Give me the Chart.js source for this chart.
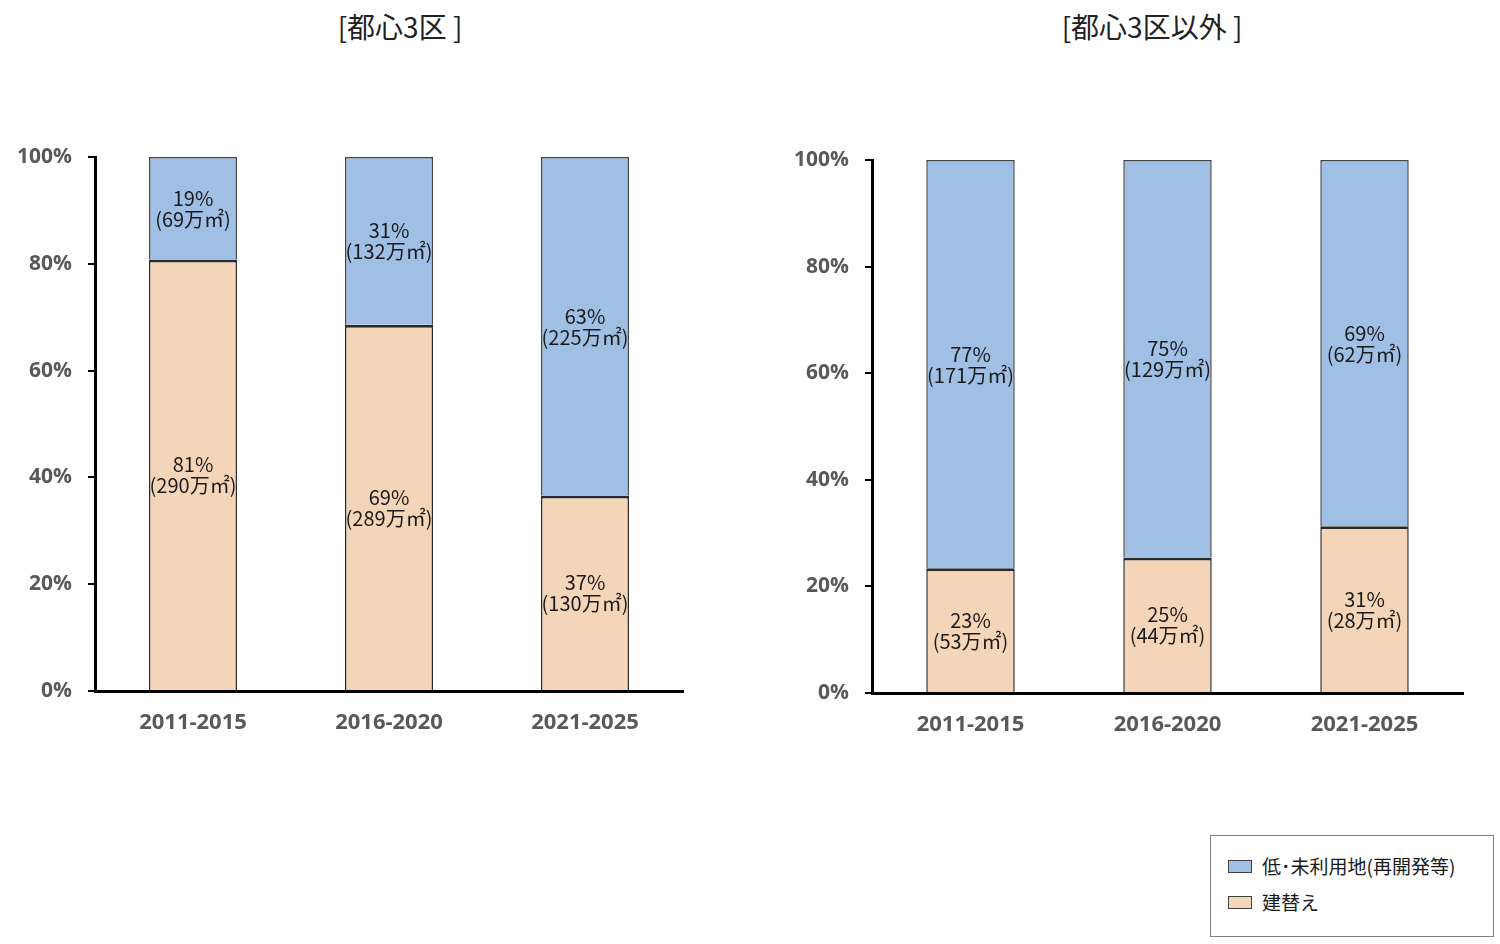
<!DOCTYPE html>
<html>
<head>
<meta charset="utf-8">
<script src="https://cdn.jsdelivr.net/npm/chart.js@4"></script>
<style>
  body { margin: 0; background: #fff; width: 1500px; height: 944px; position: relative; overflow: hidden;
         font-family: "Noto Sans CJK JP", "Noto Sans", sans-serif; }
  .title { position: absolute; top: 6px; font-size: 28px; color: #222; text-align: center; width: 400px; }
  .wrap { position: absolute; top: 0; width: 740px; height: 760px; }
  .legend { position: absolute; left: 1210px; top: 835px; width: 284px; height: 102px;
            border: 1.5px solid #7f7f7f; box-sizing: border-box; }
  .item { position: absolute; left: 17px; font-size: 19px; color: #1a1a1a; line-height: 24px; }
  .sw { display: inline-block; width: 22px; height: 11px; border: 1.5px solid #404040;
        vertical-align: middle; margin-right: 10px; position: relative; top: -2px; }
</style>
</head>
<body>
<div class="title" style="left:200px">[都心3区 ]</div>
<div class="title" style="left:952px">[都心3区以外 ]</div>
<div class="wrap" style="left:0"><canvas id="central"></canvas></div>
<div class="wrap" style="left:760px"><canvas id="outer"></canvas></div>
<div class="legend">
  <div class="item" style="top:18px"><span class="sw" style="background:#9fbfe4"></span>低･未利用地(再開発等)</div>
  <div class="item" style="top:54px"><span class="sw" style="background:#f5d5b7"></span>建替え</div>
</div>
<script>
// data
const categories = ["2011-2015", "2016-2020", "2021-2025"];
const yTicks = [0, 20, 40, 60, 80, 100];

const centralRebuild = [80.8, 68.6, 36.6];
const centralUnused = [19.2, 31.4, 63.4];
const centralRebuildArea = [290, 289, 130];
const centralUnusedArea = [69, 132, 225];

const outerRebuild = [23.4, 25.4, 31.3];
const outerUnused = [76.6, 74.6, 68.7];
const outerRebuildArea = [53, 44, 28];
const outerUnusedArea = [171, 129, 62];

const blue = "#9fbfe4";
const orange = "#f5d5b7";
const labelFont = "20px 'Noto Sans CJK JP', 'Noto Sans', sans-serif";

// draws "xx%" and "(xx万㎡)" in the middle of every segment
const segmentLabels = {
  id: "segmentLabels",
  afterDatasetsDraw(chart) {
    const ctx = chart.ctx;
    ctx.save();
    ctx.font = labelFont;
    ctx.fillStyle = "#1a1a1a";
    ctx.textAlign = "center";
    ctx.textBaseline = "middle";
    chart.data.datasets.forEach((ds, di) => {
      const meta = chart.getDatasetMeta(di);
      meta.data.forEach((bar, i) => {
        const mid = (bar.y + bar.base) / 2;
        ctx.fillText(Math.round(ds.data[i]) + "%", bar.x, mid - 10);
        ctx.fillText("(" + ds.areas[i] + "万㎡)", bar.x, mid + 11);
      });
    });
    ctx.restore();
  },
};

function makeChart(id, rebuild, unused, rebuildArea, unusedArea, axisWidth, pad) {
  const ctx = document.getElementById(id).getContext("2d");
  return new Chart(ctx, {
    type: "bar",
    data: {
      labels: categories,
      datasets: [
        {
          label: "建替え",
          data: rebuild,
          areas: rebuildArea,
          backgroundColor: orange,
          borderColor: "#2a2a2a",
          borderWidth: { top: 3, left: 1.5, right: 1.5, bottom: 0 },
          borderSkipped: false,
        },
        {
          label: "低･未利用地(再開発等)",
          data: unused,
          areas: unusedArea,
          backgroundColor: blue,
          borderColor: "#444",
          borderWidth: { top: 1.5, left: 1.5, right: 1.5, bottom: 0 },
          borderSkipped: false,
        },
      ],
    },
    options: {
      responsive: true,
      maintainAspectRatio: false,
      animation: false,
      categoryPercentage: 1,
      barPercentage: 0.449,
      layout: { padding: pad },
      plugins: {
        legend: { display: false },
        tooltip: { enabled: false },
      },
      scales: {
        x: {
          stacked: true,
          grid: { drawOnChartArea: false, drawTicks: false },
          border: { color: "#000", width: 3 },
          afterFit: (s) => { s.height = pad.xh; },
          ticks: {
            padding: 19,
            color: "#595959",
            font: { family: "'Open Sans', 'Noto Sans', sans-serif", size: 22, weight: "bold" },
          },
        },
        y: {
          stacked: true,
          min: 0,
          max: 100,
          afterFit: (s) => { s.width = axisWidth; },
          afterBuildTicks: (s) => { s.ticks = yTicks.map((v) => ({ value: v })); },
          grid: { drawOnChartArea: false, drawTicks: true, tickLength: 7, color: "#000", lineWidth: 2 },
          border: { color: "#000", width: 3 },
          ticks: {
            padding: 16,
            color: "#595959",
            font: { family: "'Open Sans', 'Noto Sans', sans-serif", size: 21, weight: "bold" },
            callback: (v) => v + "%",
          },
        },
      },
    },
    plugins: [segmentLabels],
  });
}

makeChart("central", centralRebuild, centralUnused, centralRebuildArea, centralUnusedArea, 95,
  { top: 157, right: 57, bottom: 0, left: 0, xh: 69 });
makeChart("outer", outerRebuild, outerUnused, outerRebuildArea, outerUnusedArea, 112,
  { top: 160, right: 37, bottom: 0, left: 0, xh: 67 });
</script>
</body>
</html>
